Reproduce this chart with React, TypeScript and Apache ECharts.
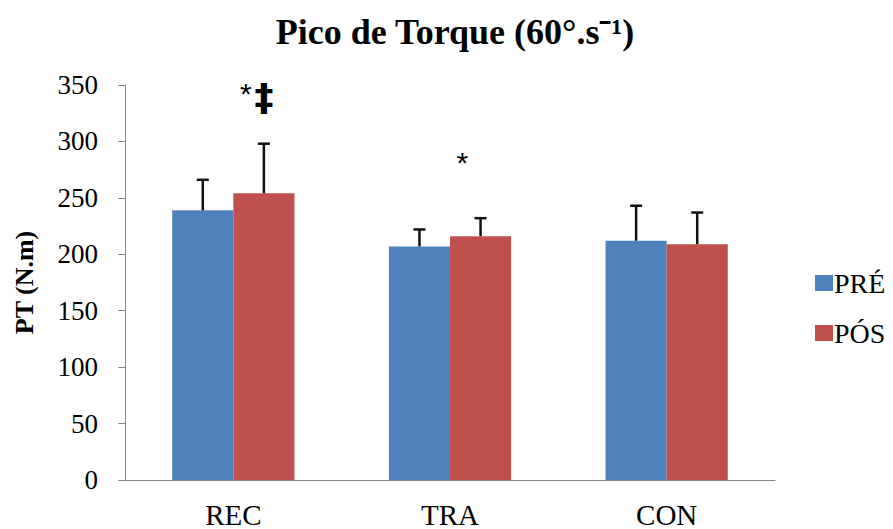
import React, { useEffect, useRef } from "react";
import * as echarts from "echarts";

const categories = ["REC", "TRA", "CON"];
const seriesNames = ["PRÉ", "PÓS"];
const preValues = [239, 207, 212];
const preSD = [27, 15, 31];
const posValues = [254, 216, 209];
const posSD = [44, 16, 28];
const yTicks = { min: 0, max: 350, interval: 50 };
// significance marks above the PÓS bars: [category index, value level, text]
const annotations: [number, number, string][] = [
  [0, 341, "*‡"],
  [1, 285, "*"],
];

const BAR_GAP_FRACTION = 0.436;

export default function App() {
  const ref = useRef<HTMLDivElement>(null);
  useEffect(() => {
    if (!ref.current) return;
    const chart = echarts.init(ref.current, undefined, { renderer: "svg" });
    const serif = "Liberation Serif";
    const sans = "Liberation Sans";

    const errRender = (side: number) => (params: any, api: any) => {
      const ci = api.value(0);
      const v = api.value(1);
      const sd = api.value(2);
      const band = api.size([1, 0])[0];
      const barW = (band * (1 - BAR_GAP_FRACTION)) / 2;
      const base = api.coord([ci, v]);
      const top = api.coord([ci, v + sd]);
      const x = base[0] + side * barW / 2;
      const cap = 6;
      const style = { stroke: "#111", lineWidth: 2.5 };
      return {
        type: "group",
        children: [
          { type: "line", shape: { x1: x, y1: base[1], x2: x, y2: top[1] }, style },
          { type: "line", shape: { x1: x - cap, y1: top[1], x2: x + cap, y2: top[1] }, style },
        ],
      };
    };

    const option: any = {
      animation: false,
      backgroundColor: "#fff",
      textStyle: { fontFamily: serif },
      title: {
        text: "Pico de Torque (60°.s⁻¹)",
        left: 450,
        textAlign: "center",
        top: 9,
        textStyle: { fontFamily: serif, fontSize: 36, fontWeight: "bold", color: "#000" },
      },
      legend: {
        orient: "vertical",
        left: 810,
        top: 263,
        data: seriesNames,
        icon: "rect",
        itemWidth: 18,
        itemHeight: 16,
        itemGap: 20,
        textStyle: { fontFamily: serif, fontSize: 28, color: "#000", lineHeight: 30, padding: [0, 0, 0, -4] },
      },
      grid: { left: 125, right: 118, top: 85, bottom: 48, containLabel: false },
      xAxis: {
        type: "category",
        data: categories,
        axisLine: { show: true, lineStyle: { color: "#868686", width: 1 } },
        axisTick: { show: false },
        axisLabel: { fontFamily: serif, fontSize: 29, color: "#000", margin: 20 },
      },
      yAxis: {
        type: "value",
        min: yTicks.min,
        max: yTicks.max,
        interval: yTicks.interval,
        name: "PT (N.m)",
        nameLocation: "middle",
        nameGap: 88,
        nameTextStyle: { fontFamily: serif, fontSize: 26, fontWeight: "bold", color: "#000" },
        axisLine: { show: true, lineStyle: { color: "#868686", width: 1 } },
        axisTick: { show: true, length: 7, lineStyle: { color: "#868686" } },
        splitLine: { show: false },
        axisLabel: { fontFamily: serif, fontSize: 27, color: "#000", margin: 27 },
      },
      series: [
        {
          name: seriesNames[0],
          type: "bar",
          data: preValues,
          barGap: "0%",
          barCategoryGap: BAR_GAP_FRACTION * 100 + "%",
          itemStyle: { color: "#4F81BD" },
        },
        {
          name: seriesNames[1],
          type: "bar",
          data: posValues,
          barGap: "0%",
          barCategoryGap: BAR_GAP_FRACTION * 100 + "%",
          itemStyle: { color: "#C0504D" },
        },
        {
          type: "custom",
          name: "errPre",
          renderItem: errRender(-1),
          data: categories.map((_, i) => [i, preValues[i], preSD[i]]),
          encode: { x: 0, y: 1 },
          z: 5,
        },
        {
          type: "custom",
          name: "errPos",
          renderItem: errRender(1),
          data: categories.map((_, i) => [i, posValues[i], posSD[i]]),
          encode: { x: 0, y: 1 },
          z: 5,
        },
        {
          type: "custom",
          name: "marks",
          renderItem: (params: any, api: any) => {
            const ci = api.value(0);
            const v = api.value(1);
            const a = annotations[params.dataIndex];
            const band = api.size([1, 0])[0];
            const barW = (band * (1 - BAR_GAP_FRACTION)) / 2;
            const p = api.coord([ci, v]);
            const text = a[2];
            if (text.length > 1) {
              const x = p[0] + barW / 2;
              return {
                type: "group",
                children: [
                  {
                    type: "text",
                    style: { text: "‡", x: x, y: p[1] + 2, align: "center", verticalAlign: "middle", fontSize: 38, fontFamily: "DejaVu Sans", fill: "#000", fontWeight: "bold" },
                  },
                  {
                    type: "text",
                    style: { text: "*", x: x - 18, y: p[1] - 2, align: "center", verticalAlign: "middle", fontSize: 30, fontFamily: sans, fill: "#000" },
                  },
                ],
              };
            }
            return {
              type: "text",
              style: { text: text, x: p[0] + barW * 0.2, y: p[1] + 4, align: "center", verticalAlign: "middle", fontSize: 30, fontFamily: sans, fill: "#000" },
            };
          },
          data: annotations.map((a) => [a[0], a[1]]),
          encode: { x: 0, y: 1 },
          z: 6,
        },
      ],
    };
    chart.setOption(option);
    return () => chart.dispose();
  }, []);
  return <div ref={ref} style={{ width: 893, height: 529, position: "absolute", left: 0, top: 0 }} />;
}
